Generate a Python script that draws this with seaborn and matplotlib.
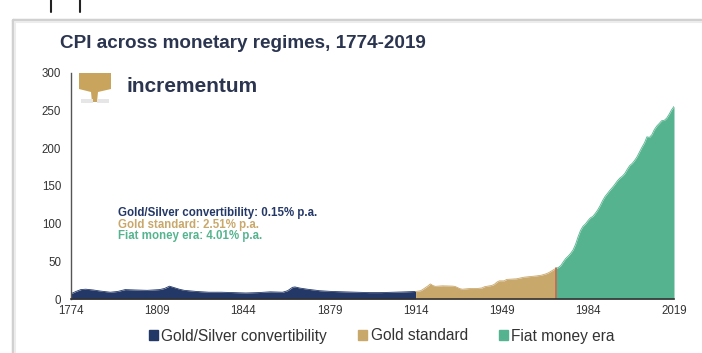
import numpy as np
import pandas as pd
import matplotlib
matplotlib.use("Agg")
import matplotlib.pyplot as plt
import seaborn as sns
from matplotlib.patches import Patch, Rectangle, Polygon
from matplotlib.lines import Line2D

# ---- data ----
silver_years = [1774, 1776, 1778, 1780, 1783, 1786, 1790, 1793, 1796, 1800, 1805, 1810, 1812, 1814,
                1816, 1818, 1820, 1825, 1830, 1835, 1840, 1845, 1850, 1855, 1860, 1862, 1864, 1865,
                1867, 1870, 1875, 1880, 1885, 1890, 1895, 1900, 1905, 1910, 1914]
silver_cpi = [7, 10, 12.5, 13, 12, 10.5, 9, 10, 12.5, 12, 11.5, 12.5, 14, 17,
              15, 13, 11.5, 10, 9, 9, 8.5, 8, 8.5, 9.5, 9, 11, 15.5, 16,
              14.5, 13, 11, 10, 9.5, 9, 8.5, 8.5, 9, 9.5, 10]

gold_years = [1914, 1916, 1917, 1918, 1919, 1920, 1921, 1922, 1925, 1929, 1930, 1931, 1932, 1933,
              1936, 1939, 1941, 1942, 1945, 1946, 1947, 1948, 1950, 1951, 1955, 1958, 1960, 1963,
              1965, 1967, 1968, 1969, 1970, 1971]
gold_cpi = [10, 10.9, 12.8, 15.1, 17.3, 20, 17.9, 16.8, 17.5, 17.1, 16.7, 15.2, 13.7, 13,
            13.9, 13.9, 14.7, 16.3, 18, 19.5, 22.3, 24.1, 24.1, 26, 26.8, 28.9, 29.6, 30.6,
            31.5, 33.4, 34.8, 36.7, 38.8, 40.5]

fiat_years = [1971, 1972, 1973, 1974, 1975, 1976, 1977, 1978, 1979, 1980, 1981, 1982, 1983, 1984,
              1985, 1986, 1987, 1988, 1989, 1990, 1991, 1992, 1993, 1994, 1995, 1996, 1997, 1998,
              1999, 2000, 2001, 2002, 2003, 2004, 2005, 2006, 2007, 2008, 2009, 2010, 2011, 2012,
              2013, 2014, 2015, 2016, 2017, 2018, 2019]
fiat_cpi = [40.5, 41.8, 44.4, 49.3, 53.8, 56.9, 60.6, 65.2, 72.6, 82.4, 90.9, 96.5, 99.6, 103.9,
            107.6, 109.6, 113.6, 118.3, 124.0, 130.7, 136.2, 140.3, 144.5, 148.2, 152.4, 156.9, 160.5, 163.0,
            166.6, 172.2, 177.1, 179.9, 184.0, 188.9, 195.3, 201.6, 207.3, 215.3, 214.5, 218.1, 224.9, 229.6,
            233.0, 236.7, 237.0, 240.0, 245.1, 251.1, 255.7]

regimes = ["Gold/Silver convertibility", "Gold standard", "Fiat money era"]
rates = ["0.15% p.a.", "2.51% p.a.", "4.01% p.a."]
x_ticks = [1774, 1809, 1844, 1879, 1914, 1949, 1984, 2019]
y_ticks = [0, 50, 100, 150, 200, 250, 300]
title = "CPI across monetary regimes, 1774-2019"

colors = ["#243867", "#c9a86c", "#55b48f"]

# ---- build table ----
df = pd.concat([
    pd.DataFrame({"year": silver_years, "cpi": silver_cpi, "regime": regimes[0]}),
    pd.DataFrame({"year": gold_years, "cpi": gold_cpi, "regime": regimes[1]}),
    pd.DataFrame({"year": fiat_years, "cpi": fiat_cpi, "regime": regimes[2]}),
])

sns.set_theme(style="white")
plt.rcParams["font.family"] = ["Liberation Sans", "DejaVu Sans"]

fig = plt.figure(figsize=(7.02, 3.53), dpi=100)
fig.patch.set_facecolor("white")

# panel frame with shadow
fig.add_artist(Line2D([13 / 702, 13 / 702], [0, 1 - 20 / 353], transform=fig.transFigure,
                      color="#d0d0d0", lw=2.5))
fig.add_artist(Line2D([13 / 702, 1], [1 - 20 / 353, 1 - 20 / 353], transform=fig.transFigure,
                      color="#d0d0d0", lw=2.5))
fig.add_artist(Line2D([15 / 702, 15 / 702], [0, 1 - 22 / 353], transform=fig.transFigure,
                      color="#ececec", lw=1.5))
fig.add_artist(Line2D([15 / 702, 1], [1 - 22 / 353, 1 - 22 / 353], transform=fig.transFigure,
                      color="#ececec", lw=1.5))
# small marks at the top edge
for xp in (51, 80):
    fig.add_artist(Line2D([xp / 702, xp / 702], [1, 1 - 12 / 353], transform=fig.transFigure,
                          color="#222222", lw=1.5))

ax = fig.add_axes([71 / 702, 1 - 299 / 353, (674 - 71) / 702, (299 - 73) / 353])

sns.lineplot(data=df, x="year", y="cpi", hue="regime", palette=colors, ax=ax,
             legend=False, linewidth=0.6, estimator=None)
for reg, col in zip(regimes, colors):
    sub = df[df["regime"] == reg]
    ax.fill_between(sub["year"], 0, sub["cpi"], color=col, lw=0)

# boundary line at 1971
b = df[df["regime"] == regimes[2]].iloc[0]
ax.plot([b["year"], b["year"]], [0, b["cpi"]], color="#c0654c", lw=1.2)

ax.set_xlim(x_ticks[0], x_ticks[-1])
ax.set_ylim(y_ticks[0], y_ticks[-1])
ax.set_xticks(x_ticks)
ax.set_yticks(y_ticks)
ax.tick_params(axis="both", labelsize=8.3, colors="#333333", length=3, width=0.8, pad=4)
ax.tick_params(axis="x", direction="inout", length=4, pad=2.5)
ax.set_xlabel("")
ax.set_ylabel("")
for s in ["top", "right"]:
    ax.spines[s].set_visible(False)
ax.spines["left"].set_color("#555555")
ax.spines["left"].set_linewidth(1.0)
ax.spines["bottom"].set_color("#333333")
ax.spines["bottom"].set_linewidth(1.2)

# title
fig.text(60 / 702, 1 - 44 / 353, title, fontsize=13.6, fontweight="bold", color="#2b3550",
         va="center", ha="left")

# logo (stylized tree) and brand text
gold = "#c9a45c"
lx0, ly0 = 77, 72
def fp(x, y):
    return (x / 702, 1 - y / 353)
fig.add_artist(Polygon([fp(lx0 + 2, ly0 + 1), fp(lx0 + 34, ly0 + 1), fp(lx0 + 34, ly0 + 17),
                        fp(lx0 + 21, ly0 + 20), fp(lx0 + 20, ly0 + 30), fp(lx0 + 15, ly0 + 30),
                        fp(lx0 + 14, ly0 + 20), fp(lx0 + 2, ly0 + 17)],
                       closed=True, transform=fig.transFigure, color=gold, lw=0))
fig.add_artist(Rectangle(fp(lx0 + 4, ly0 + 31), 12 / 702, 4 / 353, transform=fig.transFigure,
                         color="#e6e6e6", lw=0))
fig.add_artist(Rectangle(fp(lx0 + 20, ly0 + 31), 12 / 702, 4 / 353, transform=fig.transFigure,
                         color="#e6e6e6", lw=0))
fig.text(126 / 702, 1 - 86 / 353, "incrementum", fontsize=15, fontweight="bold",
         color="#2b3550", va="center", ha="left")

# annotation
for i, (reg, rate, col) in enumerate(zip(regimes, rates, colors)):
    ax.text(1793, 114 - i * 15.2, f"{reg}: {rate}", fontsize=8.3, fontweight="bold",
            color=col, va="center", ha="left")

# legend
handles = [Patch(facecolor=c, edgecolor=c, label=r) for r, c in zip(regimes, colors)]
fig.legend(handles=handles, loc="center", bbox_to_anchor=(382 / 702, 1 - 336 / 353), ncol=3,
           frameon=False, fontsize=11.2, handlelength=0.55, handleheight=0.55, handletextpad=0.25,
           columnspacing=2.0, labelcolor="#333333")

fig.savefig("out.png", dpi=100, facecolor="white")
